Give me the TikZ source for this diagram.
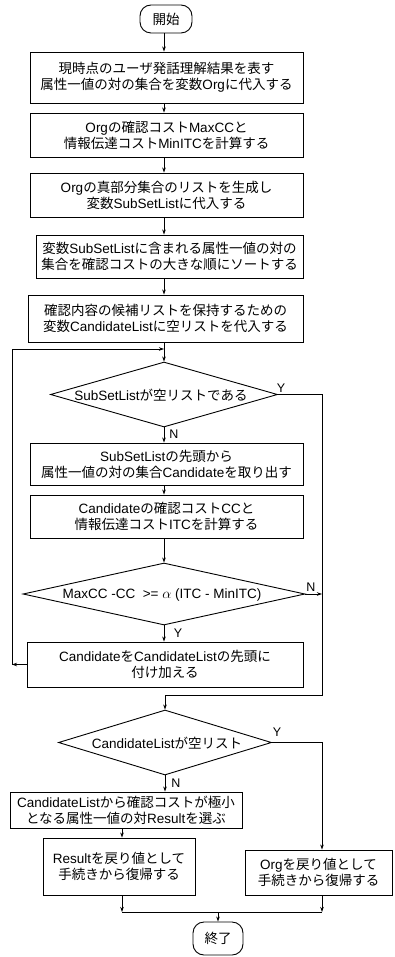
\documentclass[tikz,border=0pt]{standalone}
\usepackage{fontspec}
\setmainfont{Liberation Sans}
\newfontfamily\cjkfont{Noto Sans CJK JP}
\XeTeXinterchartokenstate=1
\newXeTeXintercharclass\cjkcls
\newcount\cjkc
\def\setcjkrange#1#2{\cjkc=#1 \loop\XeTeXcharclass\cjkc=\cjkcls \advance\cjkc by 1 \ifnum\cjkc<#2 \repeat}
\setcjkrange{"3000}{"3100}
\setcjkrange{"4E00}{"A000}
\setcjkrange{"FF00}{"FFF0}
\XeTeXinterchartoks 0 \cjkcls = {\begingroup\cjkfont}
\XeTeXinterchartoks 4095 \cjkcls = {\begingroup\cjkfont}
\XeTeXinterchartoks \cjkcls 0 = {\endgroup}
\XeTeXinterchartoks \cjkcls 4095 = {\endgroup}
\usetikzlibrary{shapes.geometric,arrows.meta}
\begin{document}
\begin{tikzpicture}[x=1pt,y=-1pt,
  txt/.style={font=\fontsize{13.5}{16}\selectfont, align=center, inner sep=0pt},
  proc/.style={draw, line width=0.9pt, inner sep=0pt, align=center, font=\fontsize{13.5}{16}\selectfont},
  term/.style={draw, rounded corners=11pt, line width=0.9pt, inner sep=0pt, font=\fontsize{13.5}{16}\selectfont},
  dec/.style={draw, diamond, line width=0.9pt, inner sep=0pt},
  flow/.style={line width=0.8pt},
  arr/.style={flow, -{Stealth[length=5pt,width=3.5pt]}},
  lab/.style={font=\fontsize{12.5}{12.5}\selectfont, inner sep=0pt}
]
\useasboundingbox (0,0) rectangle (394,957);
\coordinate (sp) at (164,0);
\coordinate (lx) at (12,0);
\coordinate (rx) at (322,0);
\coordinate (lx2) at (122,0);

\node[term, minimum width=52pt, minimum height=28pt] (st) at (166,19) {開始};
\node[proc, minimum width=273pt, minimum height=51pt] (b1) at (166.5,77.5)
  {現時点のユーザ発話理解結果を表す\\属性一値の対の集合を変数Orgに代入する};
\node[proc, minimum width=273pt, minimum height=44pt] (b2) at (166.5,135)
  {Orgの確認コストMaxCCと\\情報伝達コストMinITCを計算する};
\node[proc, minimum width=273pt, minimum height=44pt] (b3) at (166.5,195)
  {Orgの真部分集合のリストを生成し\\変数SubSetListに代入する};
\node[proc, minimum width=267pt, minimum height=43pt] (b4) at (169.5,256.5)
  {変数SubSetListに含まれる属性一値の対の\\集合を確認コストの大きな順にソートする};
\node[proc, minimum width=275pt, minimum height=47pt] (b5) at (165.5,318.5)
  {確認内容の候補リストを保持するための\\変数CandidateListに空リストを代入する};
\coordinate (j1) at (164,349);
\node[dec, minimum width=227pt, minimum height=65pt] (d1) at (164,394.5) {};
\node[txt] (t1) at (161,395) {SubSetListが空リストである};
\node[proc, minimum width=273pt, minimum height=42pt] (b6) at (166.5,464)
  {SubSetListの先頭から\\属性一値の対の集合Candidateを取り出す};
\node[proc, minimum width=273pt, minimum height=43pt] (b7) at (166.5,516.5)
  {Candidateの確認コストCCと\\情報伝達コストITCを計算する};
\node[dec, minimum width=282pt, minimum height=62pt] (d2) at (164,594) {};
\node[txt] (t2) at (162,595) {MaxCC -CC\ \ >= $\alpha$ (ITC - MinITC)};
\node[proc, minimum width=276pt, minimum height=45pt] (b8) at (165,664.5)
  {CandidateをCandidateListの先頭に\\付け加える};
\coordinate (m2) at (322,695);
\node[dec, minimum width=213pt, minimum height=65pt] (d3) at (165,742.5) {};
\node[txt] (t3) at (167,743) {CandidateListが空リスト};
\node[proc, minimum width=232pt, minimum height=36pt] (b9) at (126,810)
  {CandidateListから確認コストが極小\\となる属性一値の対Resultを選ぶ};
\node[proc, minimum width=152pt, minimum height=57pt] (b10) at (119,866.5)
  {Resultを戻り値として\\手続きから復帰する};
\node[proc, minimum width=147pt, minimum height=45pt] (b11) at (318.5,872.5)
  {Orgを戻り値として\\手続きから復帰する};
\coordinate (mL) at (122,912);
\coordinate (mR) at (322,912);
\coordinate (mC) at (218,912);
\node[term, minimum width=50pt, minimum height=33pt] (en) at (218,938.5) {終了};

% labels
\node[lab] (y1) at (281,388) {Y};
\node[lab] (n1) at (174,434) {N};
\node[lab] (n2) at (311,587) {N};
\node[lab] (y2) at (178,633) {Y};
\node[lab] (y3) at (277,732) {Y};
\node[lab] (n3) at (176,783) {N};

% connectors
\draw[arr] (st.south -| sp) -- (b1.north -| sp);
\draw[arr] (b1.south -| sp) -- (b2.north -| sp);
\draw[arr] (b2.south -| sp) -- (b3.north -| sp);
\draw[arr] (b3.south -| sp) -- (b4.north -| sp);
\draw[arr] (b4.south -| sp) -- (b5.north -| sp);
\draw[flow] (b5.south -| sp) -- (j1);
\draw[arr] (j1) -- (d1.north);
\draw[arr] (d1.south) -- (b6.north -| d1.south);
\draw[arr] (b6.south -| sp) -- (b7.north -| sp);
\draw[arr] (b7.south -| sp) -- (d2.north);
\draw[arr] (d2.south) -- (b8.north -| d2.south);
\draw[arr] (b8.west) -- (b8.west -| lx);
\draw[arr] (b8.west -| lx) |- (j1);
\draw[arr] (d1.east) -| (m2) -| (d3.north);
\draw[arr] (d2.east) -- (d2.east -| rx);
\draw[arr] (d3.east) -| (b11.north -| rx);
\draw[arr] (d3.south) -- (b9.north -| d3.south);
\draw[arr] (b9.south -| lx2) -- (b10.north -| lx2);
\draw[arr] (b10.south -| lx2) -- (mL);
\draw[arr] (b11.south -| rx) -- (mR);
\draw[flow] (mL) -- (mR);
\draw[arr] (mC) -- (en.north);
\end{tikzpicture}
\end{document}
